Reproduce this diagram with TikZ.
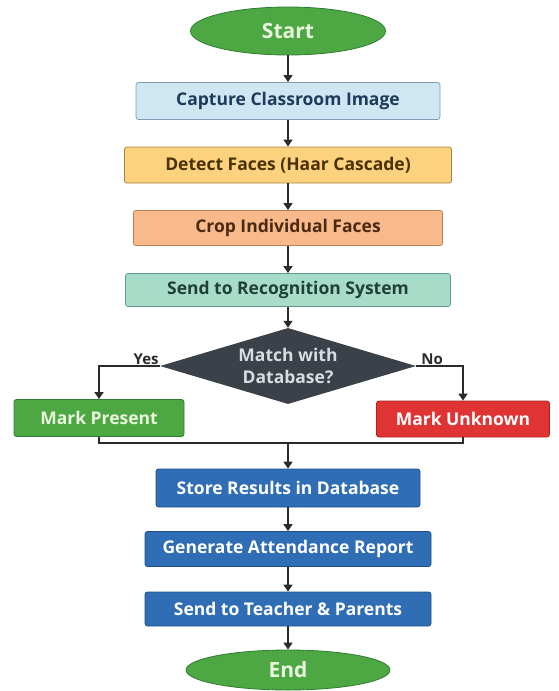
\documentclass[tikz,border=0pt]{standalone}
\usepackage{fontspec}
\setmainfont{Open Sans}
\usepackage{tikz}
\usetikzlibrary{arrows.meta, positioning, shapes.geometric}
\definecolor{termfill}{HTML}{4DA843}
\definecolor{termedge}{HTML}{2F7D32}
\definecolor{termtext}{HTML}{E9F7DD}
\definecolor{capfill}{HTML}{CFE6F3}
\definecolor{capedge}{HTML}{7E9DB5}
\definecolor{captext}{HTML}{1F3A5A}
\definecolor{detfill}{HTML}{FDD27F}
\definecolor{detedge}{HTML}{A9843E}
\definecolor{dettext}{HTML}{4A3200}
\definecolor{cropfill}{HTML}{F8B98B}
\definecolor{cropedge}{HTML}{BD7C52}
\definecolor{croptext}{HTML}{4A2A12}
\definecolor{sendfill}{HTML}{A8DCC9}
\definecolor{sendedge}{HTML}{5E9C88}
\definecolor{sendtext}{HTML}{1E4038}
\definecolor{matchfill}{HTML}{3B4148}
\definecolor{matchtext}{HTML}{D8DDE2}
\definecolor{redfill}{HTML}{E03434}
\definecolor{rededge}{HTML}{B02020}
\definecolor{bluefill}{HTML}{2F6DB5}
\definecolor{blueedge}{HTML}{1F4F8A}
\definecolor{linegray}{HTML}{2B2B2B}

\begin{document}
\begin{tikzpicture}[x=1pt, y=-1pt,
	txt/.style={font=\bfseries\fontsize{17.5}{22}\selectfont},
	box/.style={txt, draw, rounded corners=2.5pt, line width=0.8pt, inner sep=0pt, align=center},
	term/.style={ellipse, draw=termedge, fill=termfill, text=termtext, line width=0.8pt, inner sep=0pt,
		font=\bfseries\fontsize{21}{24}\selectfont},
	bluebox/.style={box, fill=bluefill, draw=blueedge, text=white, minimum width=286pt, minimum height=35pt},
	answer/.style={font=\bfseries\fontsize{15}{18}\selectfont, text=linegray, inner sep=1pt},
	flow/.style={line width=1.5pt, draw=linegray},
	arr/.style={flow, -{Triangle[width=9pt, length=7pt]}},
]

\useasboundingbox (0,0) rectangle (558,691);

\node[term, minimum width=195pt, minimum height=48pt] (start) at (288,31) {Start};
\node[box, fill=capfill, draw=capedge, text=captext, minimum width=304pt, minimum height=37pt] (capture) at (288,101) {Capture Classroom Image};
\node[box, fill=detfill, draw=detedge, text=dettext, minimum width=327pt, minimum height=36pt] (detect) at (288,165) {Detect Faces (Haar Cascade)};
\node[box, fill=cropfill, draw=cropedge, text=croptext, minimum width=309pt, minimum height=35pt] (crop) at (288,228) {Crop Individual Faces};
\node[box, fill=sendfill, draw=sendedge, text=sendtext, minimum width=325pt, minimum height=33pt] (send) at (288,290) {Send to Recognition System};

\node[txt, diamond, fill=matchfill, text=matchtext, aspect=3.37, inner sep=0pt, align=center,
	minimum width=256pt, minimum height=76pt] (match) at (288,366) {Match with\\Database?};

\node[box, fill=termfill, draw=termedge, text=termtext, minimum width=170pt, minimum height=37pt] (present) at (99,418) {Mark Present};
\node[box, fill=redfill, draw=rededge, text=white, minimum width=173pt, minimum height=36pt] (unknown) at (463,419) {Mark Unknown};

\coordinate (merge) at (288,443);

\node[bluebox, minimum width=264pt, minimum height=38pt] (store) at (288,488) {Store Results in Database};
\node[bluebox] (report) at (288,549) {Generate Attendance Report};
\node[bluebox, minimum height=34pt] (notify) at (288,609) {Send to Teacher \& Parents};
\node[term, minimum width=204pt, minimum height=40pt] (finish) at (288,670) {End};

% main column
\foreach \a/\b in {start/capture, capture/detect, detect/crop, crop/send, send/match, store/report, report/notify, notify/finish} {
	\draw[arr] (\a) -- (\b);
}

% decision branches
\draw[arr] (match.west) -| (present.north);
\draw[arr] (match.east) -| (unknown.north);
\node[answer, anchor=south east] at (match.west) {Yes};
\node[answer, anchor=south west] at ([xshift=4pt]match.east) {No};

% join back
\draw[flow] (present.south) |- (merge);
\draw[flow] (unknown.south) |- (merge);
\draw[arr] (merge) -- (store);

\end{tikzpicture}
\end{document}
